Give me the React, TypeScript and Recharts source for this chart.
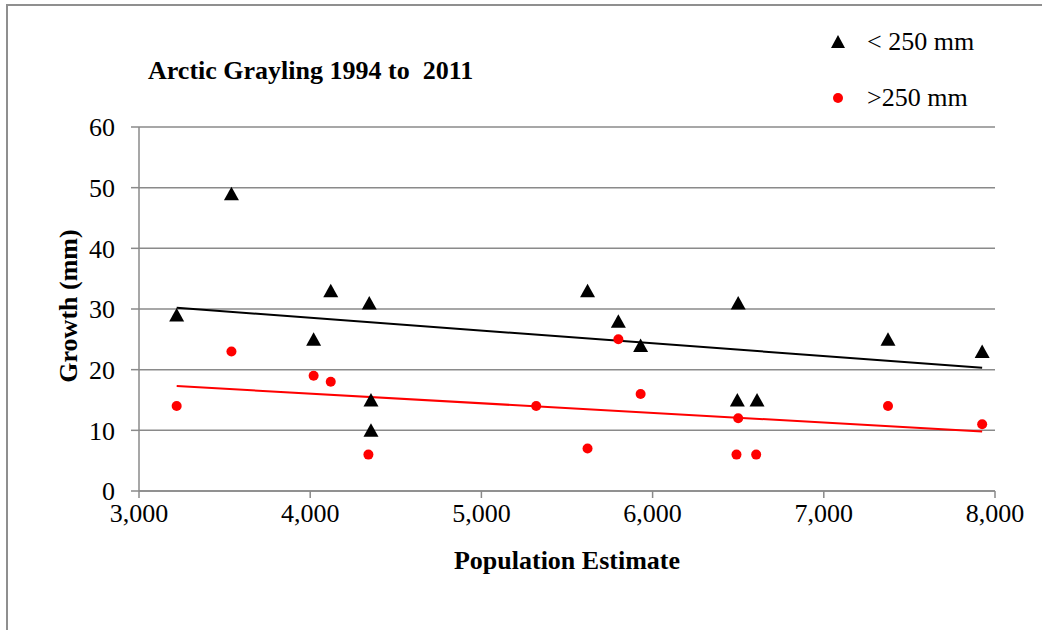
import React from 'react';
import { ScatterChart, Scatter, XAxis, YAxis, CartesianGrid, ReferenceLine } from 'recharts';

// < 250 mm fish
const smallPop = [3220, 3540, 4020, 4120, 4345, 4355, 4355, 5620, 5800, 5930, 6500, 6495, 6610, 7375, 7925];
const smallGrowth = [29, 49, 25, 33, 31, 15, 10, 33, 28, 24, 31, 15, 15, 25, 23];

// > 250 mm fish
const largePop = [3220, 3540, 4020, 4120, 4340, 5320, 5620, 5800, 5930, 6500, 6490, 6605, 7375, 7925];
const largeGrowth = [14, 23, 19, 18, 6, 14, 7, 25, 16, 12, 6, 6, 14, 11];

// trend line end points
const smallTrend = [{ x: 3220, y: 30.2 }, { x: 7925, y: 20.3 }];
const largeTrend = [{ x: 3220, y: 17.3 }, { x: 7925, y: 9.8 }];

const xTicks = [3000, 4000, 5000, 6000, 7000, 8000];
const yTicks = [0, 10, 20, 30, 40, 50, 60];

const smallData = smallPop.map((p, i) => ({ pop: p, growth: smallGrowth[i] }));
const largeData = largePop.map((p, i) => ({ pop: p, growth: largeGrowth[i] }));

const FONT = '"Liberation Serif", "Times New Roman", serif';
const GRID = '#8a8a8a';

const Triangle = (props: any) => {
  const { cx, cy } = props;
  return <polygon points={`${cx},${cy - 7} ${cx + 7.5},${cy + 6.5} ${cx - 7.5},${cy + 6.5}`} fill="#000" />;
};

const Dot = (props: any) => {
  const { cx, cy } = props;
  return <circle cx={cx} cy={cy} r={5} fill="#ff0000" />;
};

const YLabel = (props: any) => {
  const { viewBox } = props;
  const cx = 77;
  const cy = viewBox.y + viewBox.height / 2 - 3;
  return (
    <text x={cx} y={cy} transform={`rotate(-90, ${cx}, ${cy})`} textAnchor="middle"
      style={{ fontFamily: FONT, fontSize: 26, fontWeight: 'bold' }} fill="#000">
      Growth (mm)
    </text>
  );
};

const LegendBox = () => (
  <div style={{ position: 'absolute', left: 831, top: 14, fontFamily: FONT, fontSize: 26, color: '#000' }}>
    <div style={{ display: 'flex', alignItems: 'center', height: 56 }}>
      <svg width={14} height={14}><polygon points="7,0 14,13 0,13" fill="#000" /></svg>
      <span style={{ marginLeft: 22 }}>&lt; 250 mm</span>
    </div>
    <div style={{ display: 'flex', alignItems: 'center', height: 56 }}>
      <svg width={14} height={14}><circle cx={7} cy={7} r={5} fill="#ff0000" /></svg>
      <span style={{ marginLeft: 22 }}>&gt;250 mm</span>
    </div>
  </div>
);

const App = () => {
  return (
    <div style={{ position: 'absolute', left: 0, top: 0, width: 1042, height: 630, overflow: 'hidden', background: '#fff' }}>
      <div style={{ position: 'absolute', left: 6, top: 4, width: 1100, height: 700, border: '2px solid #8f8f8f' }} />
      <div style={{ position: 'absolute', left: 148, top: 56, fontFamily: FONT, fontSize: 26, fontWeight: 'bold', whiteSpace: 'pre' }}>
        Arctic Grayling 1994 to  2011
      </div>
      <LegendBox />
      <div style={{ position: 'absolute', left: 0, top: 0 }}>
        <ScatterChart width={1042} height={630} margin={{ top: 127, right: 47, bottom: 49, left: 0 }}>
          <CartesianGrid horizontal={true} vertical={false} stroke={GRID} strokeWidth={1.5} />
          <XAxis
            type="number"
            dataKey="pop"
            domain={[3000, 8000]}
            ticks={xTicks}
            tickFormatter={(v: number) => v.toLocaleString('en-US')}
            height={90}
            tickSize={7}
            tickMargin={6}
            stroke={GRID}
            strokeWidth={1.5}
            tick={{ fill: '#000', fontFamily: FONT, fontSize: 26 }}
            label={{ value: 'Population Estimate', position: 'insideBottom', offset: 12, style: { fontFamily: FONT, fontSize: 26, fontWeight: 'bold', fill: '#000' } }}
          />
          <YAxis
            type="number"
            dataKey="growth"
            domain={[0, 60]}
            ticks={yTicks}
            width={139}
            tickSize={8}
            tickMargin={16}
            stroke={GRID}
            strokeWidth={1.5}
            tick={{ fill: '#000', fontFamily: FONT, fontSize: 26 }}
            label={<YLabel />}
          />
          <Scatter name="< 250 mm" data={smallData} shape={<Triangle />} isAnimationActive={false} />
          <Scatter name=">250 mm" data={largeData} shape={<Dot />} isAnimationActive={false} />
          <ReferenceLine segment={smallTrend} stroke="#000" strokeWidth={2} ifOverflow="visible" />
          <ReferenceLine segment={largeTrend} stroke="#ff0000" strokeWidth={2} ifOverflow="visible" />
        </ScatterChart>
      </div>
    </div>
  );
};

export default App;
